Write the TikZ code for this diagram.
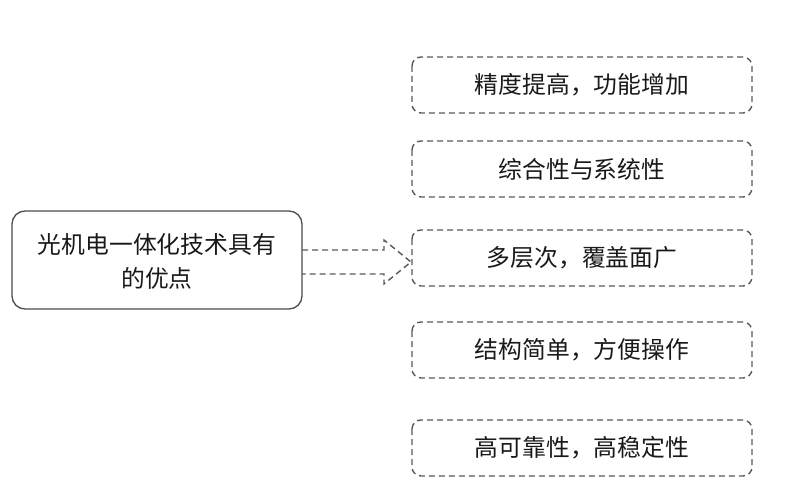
\documentclass[tikz,border=0pt]{standalone}
\usepackage{fontspec}
\setmainfont{Noto Sans CJK SC}
\begin{document}
\begin{tikzpicture}[x=1pt,y=-1pt,
  mainbox/.style={draw=black!70, line width=1.3pt, rounded corners=13pt},
  itembox/.style={draw=black!65, line width=1.4pt, dash pattern=on 6pt off 4pt, rounded corners=9pt},
  itemtext/.style={text=black!90, font=\fontsize{23.8}{26}\selectfont},
  arrowline/.style={draw=black!65, line width=1.4pt, dash pattern=on 6pt off 4pt}]
\useasboundingbox (0,0) rectangle (804,500);
\draw[mainbox] (12,211) rectangle (302,309);
\node[itemtext, align=center, font=\fontsize{23.8}{34}\selectfont] (main) at (157,261) {光机电一体化技术具有\\的优点};
\coordinate (mainA) at (302,250);
\coordinate (mainB) at (302,274);
% item boxes
\draw[itembox] (412,57) rectangle (752,113);
\node[itemtext] (i1) at (582,85) {精度提高，功能增加};
\draw[itembox] (412,141) rectangle (752,197);
\node[itemtext] (i2) at (582,169) {综合性与系统性};
\draw[itembox] (412,230) rectangle (752,286);
\node[itemtext] (i3) at (582,258) {多层次，覆盖面广};
\coordinate (i3L) at (411,262);
\draw[itembox] (412,322) rectangle (752,378);
\node[itemtext] (i4) at (582,350) {结构简单，方便操作};
\draw[itembox] (412,420) rectangle (752,476);
\node[itemtext] (i5) at (582,448) {高可靠性，高稳定性};
% hollow block arrow
\draw[arrowline] (mainA) -- (384,250) -- (384,240) -- (i3L) -- (384,284) -- (384,274) -- (mainB);
\end{tikzpicture}
\end{document}
